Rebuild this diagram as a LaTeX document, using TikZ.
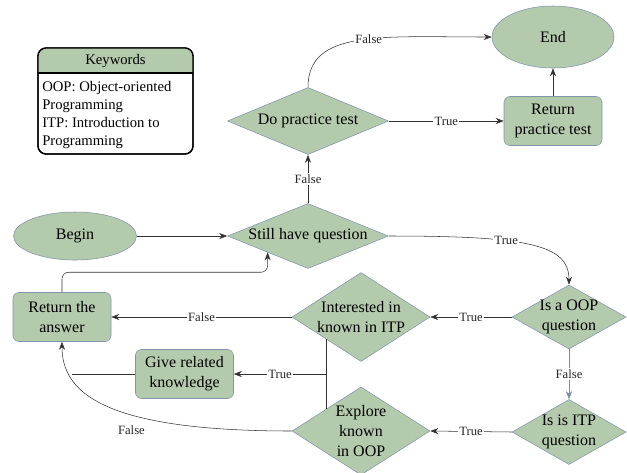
\documentclass[tikz,border=0pt]{standalone}
\usepackage{fontspec}
\setmainfont{Liberation Serif}
\usetikzlibrary{shapes.geometric,arrows.meta}

\definecolor{gfill}{RGB}{180,202,172}
\definecolor{gline}{RGB}{128,148,170}
\definecolor{conn}{RGB}{50,50,50}
\definecolor{bconn}{RGB}{120,140,170}

\tikzset{
  terminal/.style={ellipse, draw=gline, fill=gfill, inner sep=0pt},
  process/.style={rectangle, rounded corners=4.5pt, draw=gline, fill=gfill, align=center,
    minimum width=73.5pt, minimum height=36.75pt, inner sep=1pt},
  decision/.style={diamond, draw=gline, fill=gfill, inner sep=0pt},
  dtext/.style={align=center, inner sep=0pt},
  flow/.style={draw=conn, -{Stealth[length=6pt,width=4.5pt]}},
  flowlbl/.style={font=\rmfamily\fontsize{9.5}{11}\selectfont, fill=white, inner sep=1pt, text=black!85},
}

\begin{document}
\begin{tikzpicture}[x=0.75pt,y=0.75pt,yscale=-1,xscale=1,
  every node/.style={font=\rmfamily\fontsize{12}{15}\selectfont}]
	\useasboundingbox (0,0) rectangle (627,472);

	%Shape: Keywords box
	\draw [fill=white, line width=1pt, rounded corners=6] (38,48) rectangle (193,154);
	\fill [gfill] (38,73) [rounded corners=6] -- (38,48) -- (193,48) [sharp corners] -- (193,73) -- cycle;
	\draw [line width=1pt, rounded corners=6] (38,48) rectangle (193,154);
	\draw [line width=0.8pt] (38,73) -- (193,73);
	\node [font=\rmfamily\fontsize{11}{13.5}\selectfont] (kwtitle) at (115.5,61) {Keywords};
	\node [font=\rmfamily\fontsize{11}{13.5}\selectfont, anchor=north west, inner sep=0pt, align=left] (kwbody) at (42,81)
		{OOP: Object-oriented\\Programming\\ITP: Introduction to\\Programming};

	%Shapes: terminals and steps
	\node [terminal, minimum width=91.5pt, minimum height=46.5pt] (end) at (553,37) {End};
	\node [terminal, minimum width=92.25pt, minimum height=36pt] (begin) at (75,236) {Begin};
	\node [process] (retpt) at (553,121) {Return\\practice test};
	\node [process] (retans) at (62,317) {Return the\\answer};
	\node [process] (giverel) at (184.5,374) {Give related\\knowledge};

	%Shapes: decisions
	\node [decision, minimum width=120.75pt, minimum height=50.25pt, label={[dtext]center:Do practice test}] (dopt) at (308,121) {};
	\node [decision, minimum width=120.75pt, minimum height=48.75pt, label={[dtext]center:Still have question}] (still) at (308,236) {};
	\node [decision, minimum width=85.5pt, minimum height=48pt, label={[dtext]center:Is a OOP\\question}] (isoop) at (569,317) {};
	\node [decision, minimum width=85.5pt, minimum height=48.75pt, label={[dtext]center:Is is ITP\\question}] (isitp) at (569,432) {};
	\node [decision, minimum width=103.5pt, minimum height=66.75pt, label={[dtext]center:Interested in\\known in ITP}] (interest) at (361,317) {};
	\node [decision, minimum width=103.5pt, minimum height=66pt, label={[dtext]center:Explore\\known\\in OOP}] (explore) at (361,431) {};

	%Junctions
	\coordinate (jn) at (interest.south west |- giverel.east);
	\coordinate (gj) at (72,374);

	%Connectors
	\draw [flow] (begin.east) -- (still.west);
	\draw [flow] (still.north) -- node [flowlbl] {False} (dopt.south);
	\draw [flow] (dopt.east) -- node [flowlbl] {True} (retpt.west);
	\draw [flow] (retpt.north) -- (end.south);
	\draw [flow] (dopt.north) .. controls +(0,-58) and +(-110,0) .. node [flowlbl, pos=0.55] {False} (end.west);
	\draw [flow] (still.east) .. controls +(140,0) and +(0,-40) .. node [flowlbl, pos=0.37] {True} (isoop.north);
	\draw [flow] (isoop.west) -- node [flowlbl] {True} (interest.east);
	\draw [flow] (interest.west) -- node [flowlbl] {False} (retans.east);
	\draw [flow, draw=bconn] (isoop.south) -- node [flowlbl] {False} (isitp.north);
	\draw [flow] (isitp.west) -- node [flowlbl] {True} (explore.east);
	\draw [flow, rounded corners=5] (retans.north) -- ++(0,-20) -| (still.south west);
	\draw [draw=conn] (interest.south west) -- (explore.north west);
	\draw [flow] (jn) -- node [flowlbl] {True} (giverel.east);
	\draw [draw=conn] (giverel.west) -- (gj);
	\draw [flow] (explore.west) .. controls +(-190,0) and +(0,50) .. node [flowlbl, fill=none, pos=0.39, below=7pt] {False} (retans.south);

\end{tikzpicture}
\end{document}
